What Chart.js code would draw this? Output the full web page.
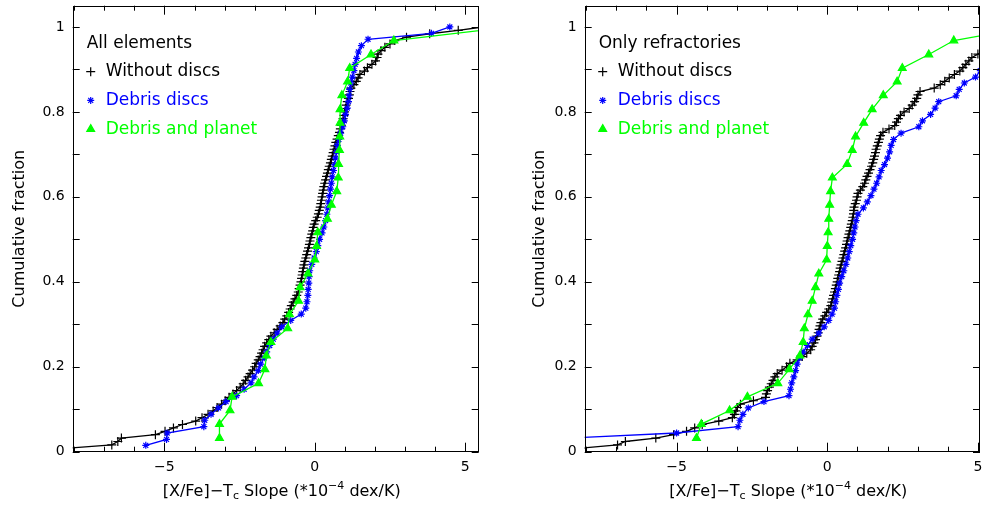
<!DOCTYPE html>
<html>
<head>
<meta charset="utf-8">
<script src="https://cdn.jsdelivr.net/npm/chart.js@4.4.1/dist/chart.umd.min.js"></script>
<style>
  html, body { margin: 0; padding: 0; background: #fff; overflow: hidden; }
  #wrap { position: relative; width: 982px; height: 508px; overflow: hidden; }
  .panel { position: absolute; top: 0; height: 508px; }
</style>
</head>
<body>
<div id="wrap">
  <div class="panel" style="left:0;width:491px"><canvas id="leftChart"></canvas></div>
  <div class="panel" style="left:491px;width:502px"><canvas id="rightChart"></canvas></div>
</div>
<script>
// tick labels
const xTickValues = [-5, 0, 5];
const xTickLabels = ["\u22125", "0", "5"];
const yTickValues = [0, 0.2, 0.4, 0.6, 0.8, 1];
const yTickLabels = ["0", "0.2", "0.4", "0.6", "0.8", "1"];
const xMinorTicks = [-8, -7, -6, -5, -4, -3, -2, -1, 0, 1, 2, 3, 4, 5];
const yMinorTicks = [0, 0.1, 0.2, 0.3, 0.4, 0.5, 0.6, 0.7, 0.8, 0.9, 1];

// series names
const seriesNames = ["Without discs", "Debris discs", "Debris and planet"];

// cumulative fractions (y)
const noDiscFrac = [
  0.008,0.016,0.024,0.032,0.040,0.048,0.056,0.064,0.072,0.080,
  0.088,0.096,0.104,0.112,0.120,0.128,0.136,0.144,0.152,0.160,
  0.168,0.176,0.184,0.192,0.200,0.208,0.216,0.224,0.232,0.240,
  0.248,0.256,0.264,0.272,0.280,0.288,0.296,0.304,0.312,0.320,
  0.328,0.336,0.344,0.352,0.360,0.368,0.376,0.384,0.392,0.400,
  0.408,0.416,0.424,0.432,0.440,0.448,0.456,0.464,0.472,0.480,
  0.488,0.496,0.504,0.512,0.520,0.528,0.536,0.544,0.552,0.560,
  0.568,0.576,0.584,0.592,0.600,0.608,0.616,0.624,0.632,0.640,
  0.648,0.656,0.664,0.672,0.680,0.688,0.696,0.704,0.712,0.720,
  0.728,0.736,0.744,0.752,0.760,0.768,0.776,0.784,0.792,0.800,
  0.808,0.816,0.824,0.832,0.840,0.848,0.856,0.864,0.872,0.880,
  0.888,0.896,0.904,0.912,0.920,0.928,0.936,0.944,0.952,0.960,
  0.968,0.976,0.984,0.992,1.000
];
const debrisFrac = [
  0.015,0.029,0.044,0.059,0.074,0.088,0.103,0.118,0.132,0.147,
  0.162,0.176,0.191,0.206,0.221,0.235,0.250,0.265,0.279,0.294,
  0.309,0.324,0.338,0.353,0.368,0.382,0.397,0.412,0.426,0.441,
  0.456,0.471,0.485,0.500,0.515,0.529,0.544,0.559,0.574,0.588,
  0.603,0.618,0.632,0.647,0.662,0.676,0.691,0.706,0.721,0.735,
  0.750,0.765,0.779,0.794,0.809,0.824,0.838,0.853,0.868,0.882,
  0.897,0.912,0.926,0.941,0.956,0.971,0.985,1.000
];
const planetFrac = [
  0.032,0.065,0.097,0.129,0.161,0.194,0.226,0.258,0.290,0.323,
  0.355,0.387,0.419,0.452,0.484,0.516,0.548,0.581,0.613,0.645,
  0.677,0.710,0.742,0.774,0.806,0.839,0.871,0.903,0.935,0.968,1.000
];

// slopes, all elements (x)
const allNoDiscSlope = [
  -8.25,-6.75,-6.55,-6.43,-5.3,-4.98,-4.7,-4.4,-3.96,-3.75,
  -3.55,-3.38,-3.25,-3.1,-2.98,-2.85,-2.72,-2.6,-2.48,-2.38,
  -2.3,-2.22,-2.15,-2.07,-2.0,-1.95,-1.88,-1.82,-1.77,-1.72,
  -1.67,-1.6,-1.53,-1.46,-1.35,-1.25,-1.15,-1.06,-1.0,-0.93,
  -0.87,-0.82,-0.78,-0.72,-0.66,-0.6,-0.55,-0.52,-0.49,-0.46,
  -0.44,-0.42,-0.4,-0.38,-0.36,-0.33,-0.3,-0.27,-0.24,-0.21,
  -0.18,-0.16,-0.13,-0.1,-0.07,-0.05,-0.02,0.03,0.08,0.12,
  0.15,0.18,0.2,0.22,0.24,0.26,0.28,0.3,0.33,0.36,
  0.39,0.42,0.45,0.48,0.52,0.55,0.58,0.61,0.64,0.67,
  0.7,0.74,0.78,0.82,0.85,0.88,0.91,0.94,0.97,0.99,
  1.02,1.04,1.08,1.12,1.15,1.17,1.2,1.3,1.38,1.44,
  1.5,1.65,1.75,1.9,2.02,2.07,2.1,2.2,2.33,2.5,
  2.66,3.05,3.82,4.77,5.6
];
const allDebrisSlope = [
  -5.62,-4.93,-4.91,-3.69,-3.66,-3.45,-3.2,-2.95,-2.6,-2.35,
  -2.12,-2.02,-1.88,-1.8,-1.68,-1.6,-1.5,-1.38,-1.25,-1.1,
  -0.8,-0.45,-0.3,-0.26,-0.23,-0.22,-0.2,-0.19,-0.17,-0.1,
  -0.02,0.05,0.1,0.16,0.24,0.3,0.36,0.4,0.43,0.46,
  0.49,0.52,0.55,0.58,0.62,0.66,0.69,0.72,0.75,0.8,
  0.86,0.93,0.98,1.02,1.08,1.12,1.14,1.16,1.2,1.25,
  1.3,1.34,1.39,1.45,1.55,1.77,3.88,4.49
];
const allPlanetSlope = [
  -3.17,-3.17,-2.82,-2.75,-1.87,-1.66,-1.61,-1.46,-0.9,-0.84,
  -0.54,-0.49,-0.23,0.0,0.06,0.1,0.42,0.55,0.73,0.78,
  0.79,0.82,0.83,0.84,0.84,0.9,1.09,1.16,1.87,2.63,6.5
];

// slopes, only refractories (x)
const refNoDiscSlope = [
  -8.2,-6.96,-6.7,-5.69,-5.1,-4.67,-4.4,-4.15,-3.6,-3.15,
  -3.08,-3.03,-2.98,-2.88,-2.45,-2.05,-2.02,-1.98,-1.92,-1.86,
  -1.8,-1.74,-1.66,-1.5,-1.35,-1.24,-1.0,-0.83,-0.68,-0.55,
  -0.5,-0.44,-0.39,-0.34,-0.3,-0.27,-0.24,-0.21,-0.15,-0.08,
  -0.02,0.05,0.12,0.15,0.18,0.21,0.24,0.27,0.3,0.33,
  0.35,0.38,0.41,0.43,0.46,0.49,0.52,0.55,0.58,0.61,
  0.64,0.66,0.69,0.72,0.75,0.78,0.8,0.83,0.85,0.87,
  0.88,0.89,0.93,0.97,0.99,1.02,1.1,1.18,1.24,1.28,
  1.32,1.37,1.42,1.47,1.51,1.54,1.57,1.6,1.62,1.66,
  1.7,1.73,1.77,1.85,2.05,2.24,2.3,2.36,2.43,2.55,
  2.72,2.82,2.9,2.97,3.01,3.08,3.55,3.75,3.9,4.05,
  4.22,4.4,4.5,4.6,4.7,4.8,5.0,5.2,5.5,5.9,
  6.3,6.8,7.3,8.0,9.0
];
const refDebrisSlope = [
  -14,-9.5,-5.0,-2.96,-2.9,-2.8,-2.62,-2.1,-1.27,-1.22,
  -1.18,-1.11,-1.05,-1.0,-0.92,-0.8,-0.66,-0.5,-0.28,-0.1,
  0.05,0.16,0.24,0.28,0.32,0.37,0.41,0.48,0.55,0.62,
  0.68,0.73,0.78,0.84,0.88,0.92,0.96,1.02,1.2,1.33,
  1.45,1.55,1.64,1.72,1.79,1.9,2.0,2.07,2.12,2.2,
  2.45,3.04,3.16,3.43,3.58,3.7,4.28,4.38,4.55,4.92,
  5.08,5.5,6.0,6.5,7.0,7.8,8.5,10
];
const refPlanetSlope = [
  -4.34,-4.18,-3.24,-2.65,-1.64,-1.26,-0.91,-0.8,-0.76,-0.64,
  -0.5,-0.39,-0.28,-0.02,0.0,0.03,0.05,0.08,0.11,0.17,
  0.66,0.83,0.94,1.21,1.49,1.86,2.32,2.49,3.37,4.2,6.7
];

const BLACK = "#000000";
const BLUE = "#0000ff";
const GREEN = "#00ff00";
const FONT = "'DejaVu Sans', 'Liberation Sans', sans-serif";

const styles = [
    { color: BLACK, pointStyle: "cross", radius: 4.5 },
    { color: BLUE, pointStyle: "star", radius: 3.5 },
    { color: GREEN, pointStyle: "triangle", radius: 4.5 },
];

function zip(xs, ys) {
    return xs.map((x, i) => ({ x: x, y: ys[i] }));
}

function makeDataset(label, xs, ys, st, order) {
    return {
        label: label,
        data: zip(xs, ys),
        borderColor: st.color,
        backgroundColor: st.color,
        pointBackgroundColor: st.color,
        pointBorderColor: st.color,
        pointStyle: st.pointStyle,
        pointRadius: st.radius,
        pointHoverRadius: st.radius,
        pointBorderWidth: 1.2,
        borderWidth: 1.3,
        tension: 0,
        order: order,
    };
}

// frame, inside ticks, in-plot legend and axis titles
const decorPlugin = {
    id: "decor",
    afterDraw(chart) {
        const o = chart.options.plugins.decor;
        const { ctx, chartArea: a, scales } = chart;
        ctx.save();
        ctx.strokeStyle = BLACK;
        ctx.lineWidth = 1;
        ctx.strokeRect(Math.round(a.left) + 0.5, Math.round(a.top) + 0.5,
            Math.round(a.right) - Math.round(a.left) - 1, Math.round(a.bottom) - Math.round(a.top) - 1);

        ctx.beginPath();
        xMinorTicks.forEach((v) => {
            const px = Math.round(scales.x.getPixelForValue(v)) + 0.5;
            if (px < a.left + 1 || px > a.right - 1) return;
            const len = v % 5 === 0 ? 9 : 5;
            ctx.moveTo(px, a.bottom); ctx.lineTo(px, a.bottom - len);
            ctx.moveTo(px, a.top); ctx.lineTo(px, a.top + len);
        });
        yMinorTicks.forEach((v) => {
            const py = Math.round(scales.y.getPixelForValue(v)) + 0.5;
            const len = 7;
            ctx.moveTo(a.left, py); ctx.lineTo(a.left + len, py);
            ctx.moveTo(a.right, py); ctx.lineTo(a.right - len, py);
        });
        ctx.stroke();

        // legend inside the plot
        ctx.font = "17px " + FONT;
        ctx.textBaseline = "middle";
        ctx.textAlign = "left";
        ctx.fillStyle = BLACK;
        ctx.fillText(o.title, a.left + 14, a.top + 38);
        seriesNames.forEach((name, i) => {
            const st = styles[i];
            const y = a.top + 66 + i * 28.7;
            ctx.fillStyle = st.color;
            ctx.strokeStyle = st.color;
            ctx.lineWidth = 1.2;
            Chart.helpers.drawPoint(ctx, {
                pointStyle: st.pointStyle, radius: st.radius, rotation: 0, borderWidth: 1.2,
            }, a.left + 18, y);
            ctx.fillText(name, a.left + 33, y);
        });

        // y title
        ctx.fillStyle = BLACK;
        ctx.font = "16px " + FONT;
        ctx.save();
        ctx.translate(o.yTitleX, (a.top + a.bottom) / 2);
        ctx.rotate(-Math.PI / 2);
        ctx.textAlign = "center";
        ctx.fillText("Cumulative fraction", 0, 0);
        ctx.restore();

        // x title with subscript and superscript
        const parts = [
            { t: "[X/Fe]\u2212T", size: 16, dy: 0 },
            { t: "c", size: 11, dy: 4 },
            { t: " Slope (*10", size: 16, dy: 0 },
            { t: "\u22124", size: 11, dy: -6 },
            { t: " dex/K)", size: 16, dy: 0 },
        ];
        let total = 0;
        parts.forEach((p) => {
            ctx.font = p.size + "px " + FONT;
            p.w = ctx.measureText(p.t).width;
            total += p.w;
        });
        let x = (a.left + a.right) / 2 + 6 - total / 2;
        const yBase = 492;
        ctx.textAlign = "left";
        parts.forEach((p) => {
            ctx.font = p.size + "px " + FONT;
            ctx.fillText(p.t, x, yBase + p.dy);
            x += p.w;
        });
        ctx.restore();
    },
};

function makePanel(canvasId, p) {
    const canvas = document.getElementById(canvasId);
    new Chart(canvas, {
        type: "line",
        data: {
            datasets: [
                makeDataset(seriesNames[2], p.planet, planetFrac, styles[2], 1),
                makeDataset(seriesNames[1], p.debris, debrisFrac, styles[1], 2),
                makeDataset(seriesNames[0], p.noDisc, noDiscFrac, styles[0], 3),
            ],
        },
        options: {
            responsive: true,
            maintainAspectRatio: false,
            animation: false,
            events: [],
            layout: { padding: { top: 4, right: p.padRight, left: 0, bottom: 0 } },
            scales: {
                x: {
                    type: "linear",
                    min: p.xMin,
                    max: p.xMax,
                    grid: { display: false, drawTicks: false },
                    border: { display: false },
                    afterBuildTicks: (scale) => {
                        scale.ticks = xTickValues.map((v) => ({ value: v }));
                    },
                    afterFit: (scale) => {
                        scale.height = 56.3;
                        scale.paddingLeft = 0;
                        scale.paddingRight = 0;
                    },
                    ticks: {
                        autoSkip: false,
                        maxRotation: 0,
                        padding: 7,
                        color: BLACK,
                        font: { family: FONT, size: 14 },
                        callback: (v, i) => xTickLabels[i],
                    },
                },
                y: {
                    type: "linear",
                    min: 0,
                    max: 1.05,
                    grid: { display: false, drawTicks: false },
                    border: { display: false },
                    afterBuildTicks: (scale) => {
                        scale.ticks = yTickValues.map((v) => ({ value: v }));
                    },
                    afterFit: (scale) => {
                        scale.width = p.yWidth;
                        scale.paddingTop = 0;
                        scale.paddingBottom = 0;
                    },
                    ticks: {
                        autoSkip: false,
                        padding: 8,
                        color: BLACK,
                        font: { family: FONT, size: 14 },
                        callback: (v, i) => yTickLabels[i],
                    },
                },
            },
            plugins: {
                legend: { display: false },
                tooltip: { enabled: false },
                decor: { title: p.title, yTitleX: p.yTitleX },
            },
        },
        plugins: [decorPlugin],
    });
}

makePanel("leftChart", {
    title: "All elements",
    noDisc: allNoDiscSlope, debris: allDebrisSlope, planet: allPlanetSlope,
    xMin: -8.05, xMax: 5.45, yWidth: 72.7, padRight: 12.3, yTitleX: 20,
});
makePanel("rightChart", {
    title: "Only refractories",
    noDisc: refNoDiscSlope, debris: refDebrisSlope, planet: refPlanetSlope,
    xMin: -8.05, xMax: 5.07, yWidth: 93.7, padRight: 13, yTitleX: 49,
});
</script>
</body>
</html>
